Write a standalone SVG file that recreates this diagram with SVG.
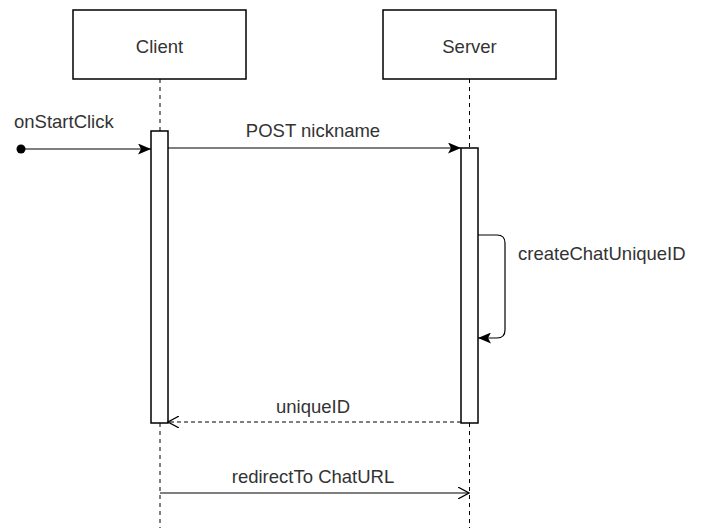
<svg xmlns="http://www.w3.org/2000/svg" width="705" height="528" viewBox="0 0 705 528">
<style>
.box{fill:#fff;stroke:#000;stroke-width:1.5}
.life{stroke:#000;stroke-width:1;stroke-dasharray:4,4;fill:none}
.msg{stroke:#000;stroke-width:1.2;fill:none}
.ret{stroke:#000;stroke-width:1.2;fill:none;stroke-dasharray:4,3}
text{font-family:"Liberation Sans",Arial,sans-serif;font-size:18.5px;fill:#333}
</style>
<defs>
<marker id="filled" markerWidth="13" markerHeight="11" refX="13" refY="5.5" orient="auto" markerUnits="userSpaceOnUse">
<path d="M0,0 L13,5.5 L0,11 L3,5.5 Z" fill="#000"/>
</marker>
<marker id="open" markerWidth="12" markerHeight="12" refX="11" refY="6" orient="auto" markerUnits="userSpaceOnUse">
<path d="M0,0 L11,6 L0,12" fill="none" stroke="#000" stroke-width="1.2"/>
</marker>
</defs>
<rect width="705" height="528" fill="#fff"/>
<g id="lifelines">
<line class="life" x1="160" y1="79" x2="160" y2="528"/>
<line class="life" x1="469.5" y1="79" x2="469.5" y2="528"/>
</g>
<g id="client">
<rect class="box" x="73" y="10" width="173" height="69"/>
<text x="159.5" y="53" text-anchor="middle">Client</text>
</g>
<g id="server">
<rect class="box" x="383" y="10" width="173" height="69"/>
<text x="469.5" y="53" text-anchor="middle">Server</text>
</g>
<g id="client-activation">
<rect class="box" x="151" y="131" width="17" height="292"/>
</g>
<g id="server-activation">
<rect class="box" x="461" y="148" width="17" height="275"/>
</g>
<g id="connectors">
<circle cx="21" cy="149" r="4.5" fill="#000"/>
<line class="msg" x1="21" y1="149" x2="151" y2="149" marker-end="url(#filled)"/>
<text x="14" y="128">onStartClick</text>
<line class="msg" x1="168" y1="148" x2="461" y2="148" marker-end="url(#filled)"/>
<text x="313" y="137" text-anchor="middle">POST nickname</text>
<path class="msg" d="M478,235 L497,235 Q505,235 505,243 L505,330 Q505,338 497,338 L478,338" marker-end="url(#filled)"/>
<text x="518" y="260">createChatUniqueID</text>
<line class="ret" x1="461" y1="422" x2="168" y2="422" marker-end="url(#open)"/>
<text x="313" y="413" text-anchor="middle">uniqueID</text>
<line class="msg" x1="160" y1="493" x2="469" y2="493" marker-end="url(#open)"/>
<text x="313" y="483" text-anchor="middle">redirectTo ChatURL</text>
</g>
</svg>
